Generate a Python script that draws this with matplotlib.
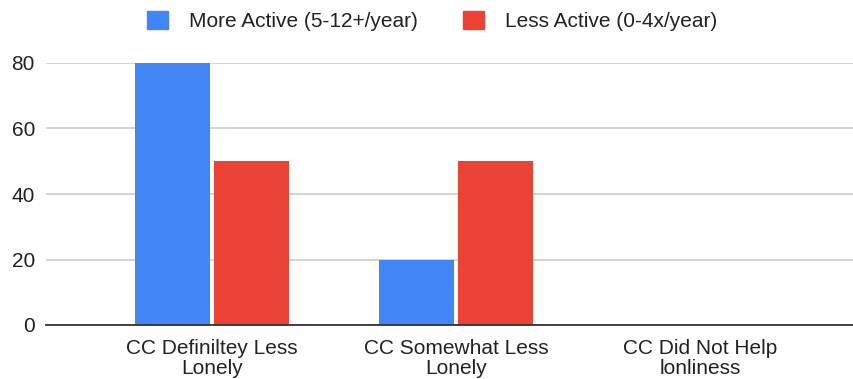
import numpy as np
import matplotlib.pyplot as plt
from matplotlib.patches import Patch

categories = ['CC Definiltey Less\nLonely', 'CC Somewhat Less\nLonely', 'CC Did Not Help\nlonliness']
more_active = [80, 20, 0]
less_active = [50, 50, 0]
series_names = ['More Active (5-12+/year)', 'Less Active (0-4x/year)']
yticks = [0, 20, 40, 60, 80]

blue = '#4285f4'
red = '#ea4335'

plt.rcParams['font.family'] = ['Liberation Sans', 'DejaVu Sans']

fig = plt.figure(figsize=(8.54, 3.79), dpi=100)
ax = fig.add_axes([46 / 854, 1 - 325 / 379, 808 / 854, 262 / 379])

x = np.arange(len(categories))
w = 0.307
off = 0.162
ax.bar(x - off, more_active, width=w, color=blue, zorder=3)
ax.bar(x + off, less_active, width=w, color=red, zorder=3)

ax.set_xlim(-0.68, 2.631)
ax.set_ylim(0, 80)
ax.set_yticks(yticks)
ax.set_xticks(x)
ax.set_xticklabels(categories, fontsize=15, color='#222222', linespacing=1.07)
ax.tick_params(axis='y', labelsize=15, labelcolor='#222222', length=0, pad=8)
ax.tick_params(axis='x', length=0, pad=10)

ax.grid(axis='y', color='#cccccc', linewidth=1.2, zorder=0)
for s in ['top', 'right', 'left']:
    ax.spines[s].set_visible(False)
ax.spines['bottom'].set_color('#333333')
ax.spines['bottom'].set_linewidth(1.3)
ax.spines['bottom'].set_zorder(4)

handles = [Patch(facecolor=blue, edgecolor=blue), Patch(facecolor=red, edgecolor=red)]
fig.legend(handles, series_names, loc='center', bbox_to_anchor=(432 / 854, 1 - 21 / 379),
           ncol=2, frameon=False, fontsize=15, handlelength=1.0, handleheight=1.0,
           handletextpad=1.0, columnspacing=2.2, labelcolor='#222222')

fig.savefig('out.png', dpi=100)
